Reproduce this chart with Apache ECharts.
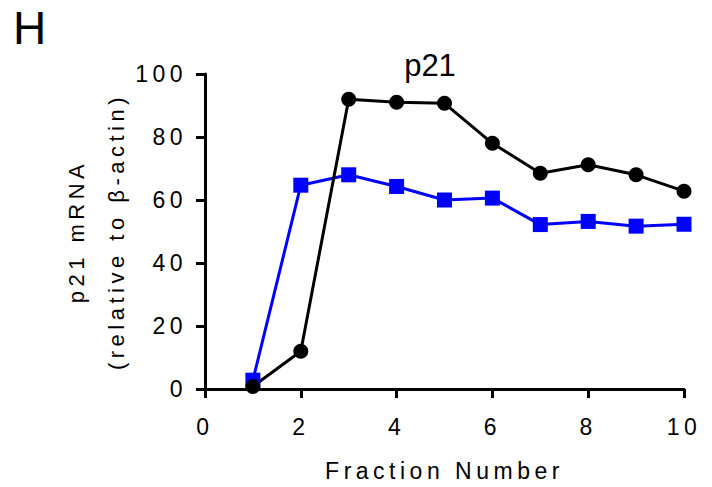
<!DOCTYPE html>
<html><head><meta charset="utf-8">
<script src="https://cdn.jsdelivr.net/npm/echarts@6/dist/echarts.min.js"></script>
<style>html,body{margin:0;padding:0;background:#fff}#c{width:712px;height:487px}
#c svg text{letter-spacing:4.5px}
#c svg text[style*="31px"]{letter-spacing:0}</style>
</head><body><div id="c"></div>
<script>
const fractions = [1,2,3,4,5,6,7,8,9,10];
const blackSeries = [0.8,12,92,91,90.7,78,68.5,71.2,68,62.8];
const blueSeries = [2.8,64.7,68,64.3,60,60.6,52.2,53.2,51.7,52.3];
const xTicks = [0,2,4,6,8,10];
const yTicks = [0,20,40,60,80,100];

const chart = echarts.init(document.getElementById('c'), null, {renderer:'svg'});
const font = 'Liberation Sans';
chart.setOption({
  animation:false,
  backgroundColor:'#fff',
  title:{text:'p21', left:425, top:45, textAlign:'center',
    textStyle:{fontFamily:font, fontSize:31, fontWeight:'normal', color:'#000'}},
  graphic:[{type:'text', left:13, top:5, style:{text:'H', fontFamily:font, fontSize:46, fill:'#000'}}],
  grid:{left:205, right:28, top:74, bottom:96},
  xAxis:{type:'value', min:0, max:10, interval:2,
    name:'Fraction Number', nameLocation:'middle', nameGap:70,
    nameTextStyle:{fontFamily:font, fontSize:23, color:'#000'},
    axisLine:{lineStyle:{color:'#000', width:3}},
    axisTick:{show:true, length:9, lineStyle:{color:'#000', width:3}},
    axisLabel:{fontFamily:font, fontSize:23, color:'#000', margin:26,
      formatter:v=>xTicks.includes(v)?String(v):''},
    splitLine:{show:false}},
  yAxis:{type:'value', min:0, max:100, interval:20,
    name:'p21 mRNA\n(relative to β-actin)', nameLocation:'middle', nameGap:69,
    nameTextStyle:{fontFamily:font, fontSize:22, color:'#000', lineHeight:40},
    axisLine:{lineStyle:{color:'#000', width:3}},
    axisTick:{show:true, length:9, lineStyle:{color:'#000', width:3}},
    axisLabel:{fontFamily:font, fontSize:23, color:'#000', margin:18,
      formatter:v=>yTicks.includes(v)?String(v):''},
    splitLine:{show:false}},
  series:[
    {type:'line', data:fractions.map((f,i)=>[f,blueSeries[i]]), symbol:'rect', symbolSize:15,
      lineStyle:{color:'#0000ff', width:3}, itemStyle:{color:'#0000ff'}},
    {type:'line', data:fractions.map((f,i)=>[f,blackSeries[i]]), symbol:'circle', symbolSize:15,
      lineStyle:{color:'#000', width:3}, itemStyle:{color:'#000'}}
  ]
});
</script></body></html>
